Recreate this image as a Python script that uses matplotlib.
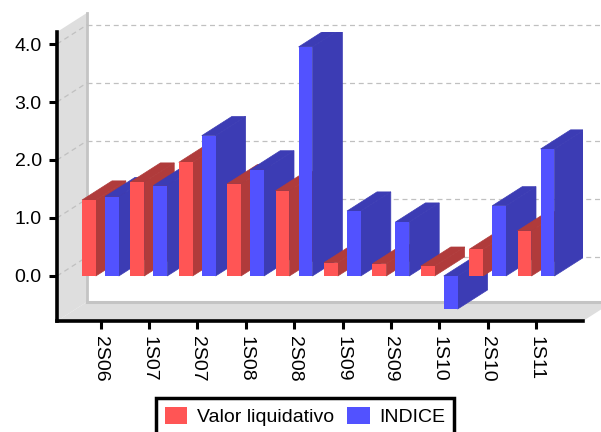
import matplotlib
matplotlib.use("Agg")
import matplotlib.pyplot as plt
from matplotlib.patches import Polygon, Patch

plt.rcParams["font.family"] = ["Liberation Sans", "DejaVu Sans"]
plt.rcParams["font.size"] = 14

# ---- datos ----
periodos = ["2S06", "1S07", "2S07", "1S08", "2S08", "1S09", "2S09", "1S10", "2S10", "1S11"]
valor_liquidativo = [1.31, 1.62, 1.96, 1.59, 1.47, 0.23, 0.21, 0.17, 0.46, 0.78]
indice = [1.37, 1.56, 2.42, 1.83, 3.95, 1.12, 0.93, -0.57, 1.21, 2.19]
yticks = [0.0, 1.0, 2.0, 3.0, 4.0]

# colores (cara frontal, cara lateral)
RED, RED_D = "#FF5555", "#B03B3B"
BLUE, BLUE_D = "#5252FF", "#3C3CB4"

# profundidad del efecto 3D (unidades de datos)
DX, DY = 0.62, 0.33
W = 0.285
XMIN, XMAX = -0.899, 9.969
YMIN, YMAX = -0.776, 4.207

fig = plt.figure(figsize=(6.01, 4.32), dpi=100)
ax = fig.add_axes([57 / 601, 1 - 321 / 432, (583 - 57) / 601, (321 - 32) / 432])
ax.set_xlim(XMIN, XMAX)
ax.set_ylim(YMIN, YMAX)

WALL = "#DEDEDE"
EDGE = "#C4C4C4"
GRID = "#C0C0C0"

# pared lateral
ax.add_patch(Polygon([(XMIN, YMIN), (XMIN + DX, YMIN + DY), (XMIN + DX, YMAX + DY), (XMIN, YMAX)],
                     closed=True, facecolor=WALL, edgecolor="none", clip_on=False, zorder=0))
# suelo
ax.add_patch(Polygon([(XMIN, YMIN), (XMIN + DX, YMIN + DY), (XMAX + DX, YMIN + DY), (XMAX, YMIN)],
                     closed=True, facecolor=WALL, edgecolor="none", clip_on=False, zorder=0))
ax.plot([XMIN + DX, XMIN + DX], [YMIN + DY, YMAX + DY], color=EDGE, lw=2, clip_on=False, zorder=1)
ax.plot([XMIN + DX, XMAX + DX + 1], [YMIN + DY, YMIN + DY], color=EDGE, lw=2.2, clip_on=False, zorder=1)

# rejilla
for v in yticks:
    ax.plot([XMIN, XMIN + DX], [v, v + DY], color=GRID, lw=0.9, ls=(0, (4, 3)), clip_on=False, zorder=1)
    ax.plot([XMIN + DX, XMAX + 2], [v + DY, v + DY], color=GRID, lw=0.9, ls=(0, (4, 3)), clip_on=False, zorder=1)


def bar3d(x, v, front, dark, z):
    y0, y1 = min(0, v), max(0, v)
    ax.bar(x, v, width=W, align="edge", color=front, edgecolor="none", zorder=z + 0.2)
    side = [(x + W, y0), (x + W + DX, y0 + DY), (x + W + DX, y1 + DY), (x + W, y1)]
    top = [(x, y1), (x + DX, y1 + DY), (x + W + DX, y1 + DY), (x + W, y1)]
    ax.add_patch(Polygon(side, closed=True, facecolor=dark, edgecolor=dark, lw=0.5, zorder=z))
    ax.add_patch(Polygon(top, closed=True, facecolor=dark, edgecolor=dark, lw=0.5, zorder=z + 0.1))


z = 2
for i, (a, b) in enumerate(zip(valor_liquidativo, indice)):
    bar3d(i - 0.382, a, RED, RED_D, z)
    z += 1
    bar3d(i + 0.093, b, BLUE, BLUE_D, z)
    z += 1

for s in ["top", "right"]:
    ax.spines[s].set_visible(False)
for s in ["left", "bottom"]:
    ax.spines[s].set_linewidth(2.6)
    ax.spines[s].set_zorder(100)

ax.set_yticks(yticks)
ax.set_yticklabels([f"{v:.1f}" for v in yticks])
ax.set_xticks(range(len(periodos)))
ax.set_xticklabels(periodos, rotation=-90, va="top", ha="center")
ax.tick_params(axis="y", direction="out", length=6, width=2.2, pad=5, labelsize=14)
ax.tick_params(axis="x", direction="out", length=5.5, width=2.2, pad=5, labelsize=14)
ax.set_facecolor("none")

handles = [Patch(facecolor=RED, edgecolor="none"), Patch(facecolor=BLUE, edgecolor="none")]
leg = fig.legend(handles, ["Valor liquidativo", "INDICE"], loc="upper center",
                 bbox_to_anchor=(305 / 601, 1 - 398 / 432), ncol=2, fontsize=14,
                 frameon=True, fancybox=False, edgecolor="black", framealpha=1,
                 borderpad=0.45, handlelength=1.15, handleheight=1.0,
                 handletextpad=0.5, columnspacing=0.7, borderaxespad=0)
leg.get_frame().set_linewidth(2.5)

fig.savefig("out.png", dpi=100)
